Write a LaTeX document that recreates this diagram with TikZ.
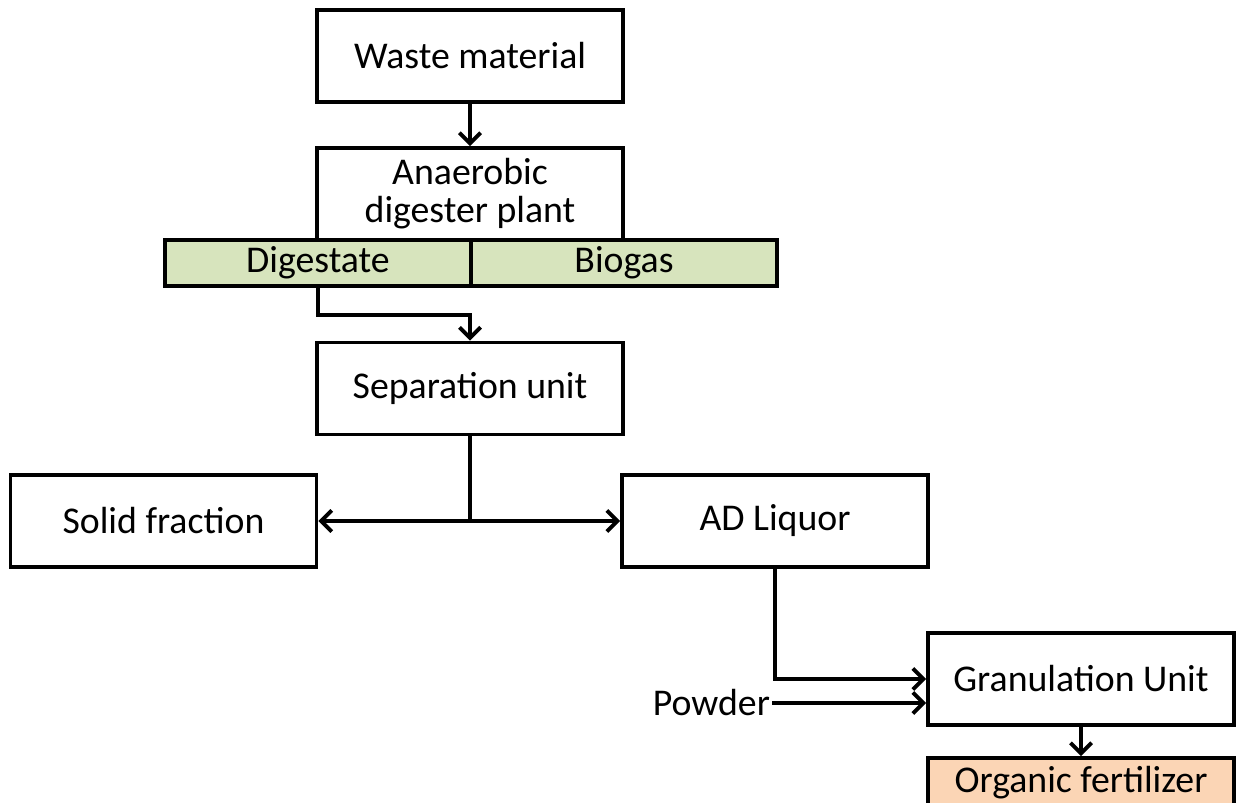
\documentclass[tikz,border=0pt]{standalone}
\usepackage{fontspec}
\setmainfont{Carlito}
\usepackage{tikz}
\usetikzlibrary{arrows.meta,calc}
\usetikzlibrary{positioning}
\usepackage{xcolor}

\definecolor{verdeclaro}{HTML}{D7E4BD}
\definecolor{pessego}{HTML}{FBD5B5}

\begin{document}
\begin{tikzpicture}[
    >={Straight Barb[length=6pt,width=12pt]},
    font=\fontsize{21.5}{21.6}\selectfont,
    unidade/.style={draw=black, line width=2.2pt, fill=white, align=center,
                    inner sep=0pt, minimum width=6.12cm, minimum height=1.84cm},
    faixa/.style={unidade, fill=verdeclaro, minimum height=0.92cm},
    liga/.style={line width=2.2pt}
  ]
  \useasboundingbox (0,0) rectangle (24.72,-16.06);

  % ── digestor ─────────────────────────────────────────────────────
  \node[unidade] (waste) at (9.40,-1.12) {Waste material};
  \node[unidade] (ad)    at (9.40,-3.88) {Anaerobic\\digester plant};
  \node[faixa]   (dig)   at (6.36,-5.26)  {Digestate};
  \node[faixa]   (gas)   at (12.48,-5.26) {Biogas};

  % ── separação ────────────────────────────────────────────────────
  \node[unidade] (sep)    at (9.40,-7.77)   {Separation unit};
  \node[unidade] (solid)  at (3.27,-10.42)  {Solid fraction};
  \node[unidade] (liquor) at (15.50,-10.42) {AD Liquor};
  \coordinate (split) at (sep.south |- solid.east);

  % ── granulação ───────────────────────────────────────────────────
  \node[unidade] (gran) at (21.62,-13.58) {Granulation Unit};
  \node[unidade, fill=pessego, minimum height=1.0cm] (fert) at (21.62,-15.66)
    {Organic fertilizer};
  \node[anchor=east, inner sep=1pt] (powder) at (15.44,-14.06) {Powder};

  % ── ligações ─────────────────────────────────────────────────────
  \draw[liga, ->] (waste.south) -- (ad.north);
  \draw[liga, ->] (dig.south) -- ++(0,-0.54) -| (sep.north);
  \draw[liga] (sep.south) -- (split);
  \draw[liga, ->] (split) -- (solid.east);
  \draw[liga, ->] (split) -- (liquor.west);
  \draw[liga, ->] (liquor.south) |- (gran.west);
  \draw[liga, ->] (powder.east) -- (powder.east -| gran.west);
  \draw[liga, ->] (gran.south) -- (fert.north);

\end{tikzpicture}
\end{document}
